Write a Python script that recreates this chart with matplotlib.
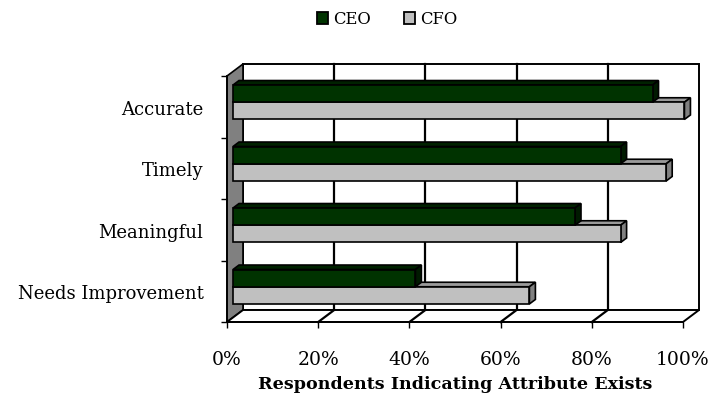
import matplotlib
matplotlib.use("Agg")
import matplotlib.pyplot as plt
from matplotlib.patches import Polygon, Patch

plt.rcParams['font.family'] = ['DejaVu Serif']

# ---------------- data ----------------
categories = ["Needs Improvement", "Meaningful", "Timely", "Accurate"]
series_names = ["CEO", "CFO"]
ceo = [40, 75, 85, 92]
cfo = [65, 85, 95, 99]
xticks = [0, 20, 40, 60, 80, 100]
xtick_labels = ["0%", "20%", "40%", "60%", "80%", "100%"]
xlabel = "Respondents Indicating Attribute Exists"

# ---------------- styling ----------------
CEO_COL, CEO_TOP, CEO_SIDE = "#003300", "#002200", "#001a00"
CFO_COL, CFO_TOP, CFO_SIDE = "#c0c0c0", "#9a9a9a", "#808080"

W, H = 715, 402
fig = plt.figure(figsize=(W / 100, H / 100), dpi=100)


def frac(x0, y0, x1, y1):
    """pixel box (top-left origin) -> figure fraction rect"""
    return [x0 / W, 1 - y1 / H, (x1 - x0) / W, (y1 - y0) / H]


# axes that carries the bar plane (middle depth)
bar_box = (233, 72.5, 689, 318.5)
ax = fig.add_axes(frac(*bar_box))
ax.set_xlim(0, 100)
ax.set_ylim(-0.5, len(categories) - 0.5)
ax.axis("off")
px_x = (bar_box[2] - bar_box[0]) / 100.0
px_y = (bar_box[3] - bar_box[1]) / len(categories)

FRONT = (-6, -4.5)
BACK = (10, 7.5)
BARD = (6, 4.5)


def sh(x, y, o):
    return (x + o[0] / px_x, y + o[1] / px_y)


ylo, yhi = -0.5, len(categories) - 0.5
LW = 1.2

# back wall
ax.add_patch(Polygon([sh(0, ylo, BACK), sh(100, ylo, BACK), sh(100, yhi, BACK), sh(0, yhi, BACK)],
                     closed=True, fc="white", ec="black", lw=1.4, zorder=1, clip_on=False))
for v in xticks[1:-1]:
    p0, p1 = sh(v, ylo, BACK), sh(v, yhi, BACK)
    ax.plot([p0[0], p1[0]], [p0[1], p1[1]], color="black", lw=1.6, zorder=1.5, clip_on=False)

# left wall
ax.add_patch(Polygon([sh(0, ylo, FRONT), sh(0, yhi, FRONT), sh(0, yhi, BACK), sh(0, ylo, BACK)],
                     closed=True, fc="#808080", ec="black", lw=LW, zorder=2, clip_on=False))
# floor
ax.add_patch(Polygon([sh(0, ylo, FRONT), sh(100, ylo, FRONT), sh(100, ylo, BACK), sh(0, ylo, BACK)],
                     closed=True, fc="white", ec="black", lw=1.4, zorder=2, clip_on=False))
for v in xticks[1:-1]:
    p0, p1 = sh(v, ylo, FRONT), sh(v, ylo, BACK)
    ax.plot([p0[0], p1[0]], [p0[1], p1[1]], color="black", lw=1.6, zorder=2.5, clip_on=False)

# bars
h = 0.28
ys = list(range(len(categories)))
series = [
    (cfo, [y - h for y in ys], CFO_COL, CFO_TOP, CFO_SIDE, 3),
    (ceo, ys, CEO_COL, CEO_TOP, CEO_SIDE, 5),
]
for vals, y0s, col, topc, sidec, z in series:
    for v, y0 in zip(vals, y0s):
        y1 = y0 + h
        ax.add_patch(Polygon([(0, y1), (v, y1), sh(v, y1, BARD), sh(0, y1, BARD)], closed=True,
                             fc=topc, ec="black", lw=LW, zorder=z, clip_on=False))
        ax.add_patch(Polygon([(v, y0), (v, y1), sh(v, y1, BARD), sh(v, y0, BARD)], closed=True,
                             fc=sidec, ec="black", lw=LW, zorder=z, clip_on=False))
    ax.barh(y0s, vals, height=h, align="edge", color=col, edgecolor="black", lw=LW,
            zorder=z + 1, clip_on=False)

# front plane axes for ticks / labels
fa = fig.add_axes(frac(227, 77, 683, 323))
fa.set_xlim(0, 100)
fa.set_ylim(ylo, yhi)
fa.patch.set_visible(False)
for s in ("top", "right"):
    fa.spines[s].set_visible(False)
for s in ("left", "bottom"):
    fa.spines[s].set_linewidth(1.3)
fa.set_xticks(xticks)
fa.set_xticklabels(xtick_labels, fontsize=13.5)
fa.tick_params(axis="x", direction="out", length=4.5, width=1, pad=16)
fa.set_yticks(ys)
fa.set_yticklabels(categories, fontsize=13)
fa.tick_params(axis="y", which="major", length=0, pad=17)
fa.set_yticks([y - 0.5 for y in ys] + [yhi], minor=True)
fa.tick_params(axis="y", which="minor", direction="out", length=4.5, width=1)
fa.set_xlabel(xlabel, fontsize=12.6, fontweight="bold", labelpad=5)

handles = [Patch(fc=CEO_COL, ec="black", lw=1.3), Patch(fc=CFO_COL, ec="black", lw=1.3)]
fig.legend(handles, series_names, loc="center", bbox_to_anchor=(387 / W, 1 - 20 / H), ncol=2,
           frameon=False, fontsize=11.8, handlelength=0.7, handleheight=0.7,
           handletextpad=0.3, columnspacing=2.0)

fig.savefig("out.png", dpi=100)
